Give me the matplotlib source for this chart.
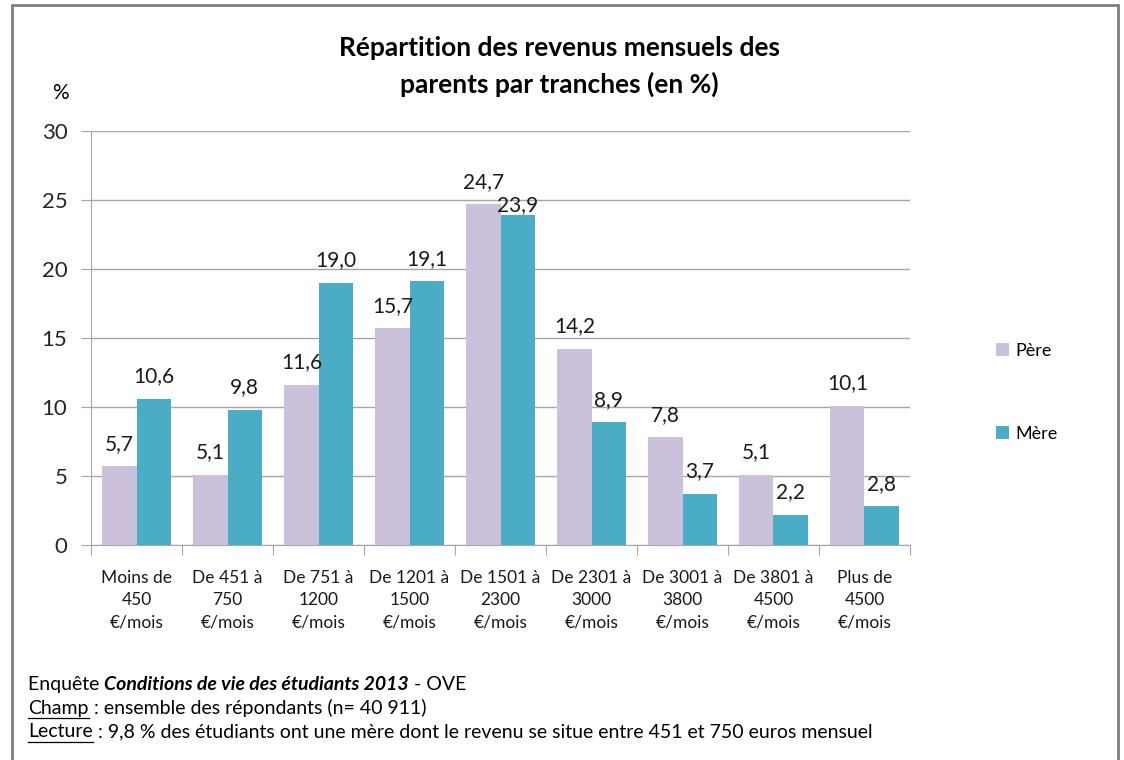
import numpy as np
import matplotlib.pyplot as plt
from matplotlib.patches import Rectangle
from matplotlib.lines import Line2D

plt.rcParams['font.family'] = ['Lato', 'DejaVu Sans']

categories = ['Moins de\n450\n€/mois', 'De 451 à\n750\n€/mois', 'De 751 à\n1200\n€/mois',
              'De 1201 à\n1500\n€/mois', 'De 1501 à\n2300\n€/mois', 'De 2301 à\n3000\n€/mois',
              'De 3001 à\n3800\n€/mois', 'De 3801 à\n4500\n€/mois', 'Plus de\n4500\n€/mois']
pere = [5.7, 5.1, 11.6, 15.7, 24.7, 14.2, 7.8, 5.1, 10.1]
mere = [10.6, 9.8, 19.0, 19.1, 23.9, 8.9, 3.7, 2.2, 2.8]
yticks = [0, 5, 10, 15, 20, 25, 30]

col_pere = '#CCC1DA'
col_mere = '#4BACC6'
grid_col = '#A6A6A6'

fig = plt.figure(figsize=(11.24, 7.6), dpi=100)
ax = fig.add_axes([0.081, 0.2829, 0.7286, 0.5447])

x = np.arange(len(categories))
w = 0.375
bp = ax.bar(x - w / 2, pere, w, color=col_pere, label='Père', zorder=3)
bm = ax.bar(x + w / 2, mere, w, color=col_mere, label='Mère', zorder=3)

for bars, vals, other in ((bp, pere, mere), (bm, mere, pere)):
    for b, v, o in zip(bars, vals, other):
        # label pushed down when it would collide with the neighbour's label
        off = 0 if (bars is bm and abs(v - o) < 1.5) else 9
        ax.annotate(f'{v:.1f}'.replace('.', ','), (b.get_x() + b.get_width() / 2, v),
                    xytext=(0, off), textcoords='offset points', ha='center', va='bottom',
                    fontsize=15, color='#1a1a1a', zorder=4)

ax.set_xlim(-0.5, len(categories) - 0.5)
ax.set_ylim(0, 30)
ax.set_yticks(yticks)
ax.set_yticklabels([str(t) for t in yticks], fontsize=16)
ax.yaxis.grid(True, color=grid_col, linewidth=1, zorder=0)
ax.tick_params(axis='y', length=7, color=grid_col, pad=10, labelcolor='#262626')

ax.set_xticks(np.arange(len(categories) + 1) - 0.5)
ax.set_xticklabels([])
ax.tick_params(axis='x', length=7, color=grid_col)
for i, c in enumerate(categories):
    ax.text(i, -0.06, c, transform=ax.get_xaxis_transform(), ha='center', va='top',
            fontsize=12.5, linespacing=1.5, color='#1a1a1a')

for s in ['top', 'right']:
    ax.spines[s].set_visible(False)
for s in ['left', 'bottom']:
    ax.spines[s].set_color(grid_col)

fig.text(0.498, 0.913, 'Répartition des revenus mensuels des\nparents par tranches (en %)',
         ha='center', va='center', fontsize=19, fontweight='bold', linespacing=1.55)
fig.text(0.054, 0.877, '%', ha='center', va='center', fontsize=15)

# legend
fig.legend(handles=[bp, bm], labels=['Père', 'Mère'], loc='center left',
           bbox_to_anchor=(0.872, 0.484), frameon=False, fontsize=13,
           handlelength=0.7, handleheight=0.7, labelspacing=3.7, handletextpad=0.35)

# border
fig.add_artist(Rectangle((0.011, -0.01), 0.984, 1.003, transform=fig.transFigure,
                         fill=False, edgecolor='#7F7F7F', linewidth=2))

# footnote
fig.canvas.draw()
renderer = fig.canvas.get_renderer()


def put_line(parts, y):
    xpos = 0.025
    for txt, style, underline in parts:
        t = fig.text(xpos, y, txt, fontsize=14, va='baseline', ha='left',
                     fontweight='bold' if 'b' in style else 'normal',
                     fontstyle='italic' if 'i' in style else 'normal')
        bb = t.get_window_extent(renderer).transformed(fig.transFigure.inverted())
        if underline:
            fig.add_artist(Line2D([bb.x0, bb.x1], [y - 0.006, y - 0.006],
                                  transform=fig.transFigure, color='black', linewidth=0.9))
        xpos = bb.x1


put_line([('Enquête ', '', False), ('Conditions de vie des étudiants 2013', 'bi', False),
          (' - OVE', '', False)], 0.092)
put_line([('Champ', '', True), (' : ensemble des répondants (n= 40 911)', '', False)], 0.061)
put_line([('Lecture', '', True),
          (' : 9,8 % des étudiants ont une mère dont le revenu se situe entre 451 et 750 euros mensuel', '', False)],
         0.030)

fig.savefig('out.png', dpi=100)
